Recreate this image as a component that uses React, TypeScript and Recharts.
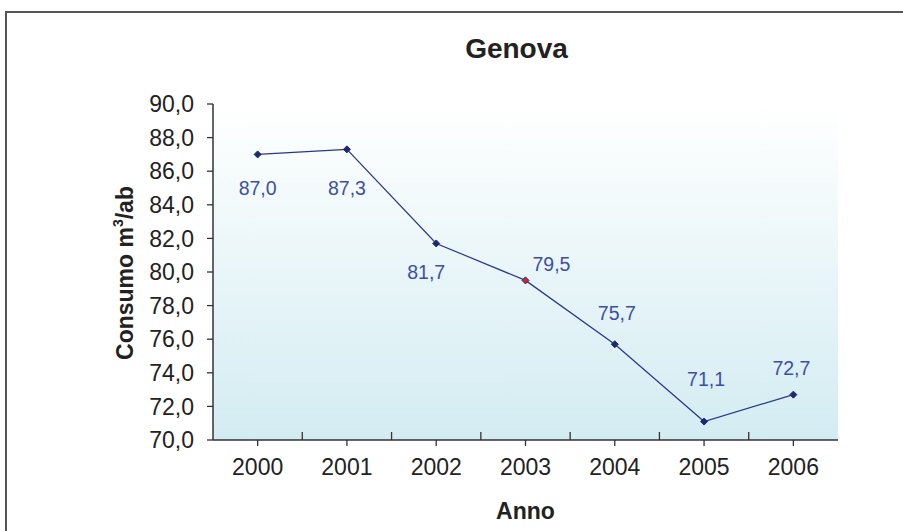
import React from 'react';
import { LineChart, Line, XAxis, YAxis, CartesianGrid, LabelList } from 'recharts';

const years = ['2000', '2001', '2002', '2003', '2004', '2005', '2006'];
const consumo = [87.0, 87.3, 81.7, 79.5, 75.7, 71.1, 72.7];
const yTicks = [70, 72, 74, 76, 78, 80, 82, 84, 86, 88, 90];

// where each value label sits relative to its point
const labelDx = [0, 0, -10, 26, 2, 2, -2];
const labelDy = [34, 39, 29, -16, -31, -43, -27];
const dotFill = ['#1f2a6e', '#1f2a6e', '#1f2a6e', '#d0202a', '#1f2a6e', '#1f2a6e', '#1f2a6e'];

const chartData = years.map((y, i) => ({ year: y, value: consumo[i] }));

const fmt = (v: number) => v.toFixed(1).replace('.', ',');

const FONT = '"Liberation Sans", Arial, sans-serif';
const TICK_SIZE = 6;
const TICK_MARGIN = 13;

const XTick = (props: any) => {
  const { x, y, payload, index } = props;
  const axisY = y - TICK_SIZE - TICK_MARGIN;
  const half = payload.offset || 0;
  return (
    <g>
      {index < years.length - 1 && (
        <line x1={x + half} x2={x + half} y1={axisY} y2={axisY - 8} stroke="#333" strokeWidth={1.3} />
      )}
      <text x={x} y={y} dy="0.7em" textAnchor="middle" fill="#222" fontSize={23} fontFamily={FONT}>
        {payload.value}
      </text>
    </g>
  );
};

const Diamond = (props: any) => {
  const { cx, cy, index } = props;
  if (cx == null || cy == null) return null;
  const s = 3.5;
  return (
    <polygon
      points={`${cx},${cy - s} ${cx + s},${cy} ${cx},${cy + s} ${cx - s},${cy}`}
      fill={dotFill[index]}
      stroke="#1f2a6e"
      strokeWidth={1}
    />
  );
};

const ValueLabel = (props: any) => {
  const { x, y, value, index } = props;
  return (
    <text
      x={x + labelDx[index]}
      y={y + labelDy[index]}
      textAnchor="middle"
      dominantBaseline="central"
      fill="#3c4fa3"
      fontSize={19.5}
      fontFamily={FONT}
    >
      {fmt(value)}
    </text>
  );
};

export default function App() {
  return (
    <div style={{ position: 'fixed', left: 0, top: 0, width: 903, height: 531, overflow: 'hidden', background: '#fff', fontFamily: FONT }}>
      <div style={{ position: 'absolute', left: 5, top: 11, width: 1100, height: 700, border: '2px solid #555', boxSizing: 'border-box' }} />
      <div style={{ position: 'absolute', left: 0, width: 1033, top: 33, textAlign: 'center', fontSize: 28, fontWeight: 'bold', color: '#222' }}>
        Genova
      </div>
      <svg style={{ position: 'absolute', left: 0, top: 0 }} width={903} height={531}>
        <text
          x={133}
          y={273}
          transform="rotate(-90, 133, 273)"
          textAnchor="middle"
          fontSize={23}
          fontWeight="bold"
          fill="#222"
          fontFamily={FONT}
        >
          Consumo m<tspan fontSize={14} dy={-10}>3</tspan><tspan dy={10}>/ab</tspan>
        </text>
      </svg>
      <div style={{ position: 'absolute', left: 0, top: 0 }}>
        <LineChart width={903} height={531} data={chartData} margin={{ top: 104, right: 65, bottom: 0, left: 0 }}>
          <defs>
            <linearGradient id="plotBg" x1="0" y1="0" x2="0" y2="1">
              <stop offset="0%" stopColor="#ffffff" />
              <stop offset="100%" stopColor="#d3ecf2" />
            </linearGradient>
          </defs>
          <CartesianGrid horizontal={false} vertical={false} fill="url(#plotBg)" />
          <XAxis
            dataKey="year"
            scale="band"
            height={91}
            tickSize={TICK_SIZE}
            tickMargin={TICK_MARGIN}
            tick={<XTick />}
            tickLine={{ stroke: '#333', strokeWidth: 1.3 }}
            axisLine={{ stroke: '#333', strokeWidth: 1.5 }}
            interval={0}
            label={{ value: 'Anno', position: 'insideBottom', offset: 12, fontSize: 23, fontWeight: 'bold', fill: '#222', fontFamily: FONT }}
          />
          <XAxis xAxisId="top" dataKey="year" scale="band" orientation="top" height={0} tick={false} tickLine={false} axisLine={{ stroke: '#bbb', strokeWidth: 1.5 }} />
          <YAxis
            width={213}
            domain={[70, 90]}
            ticks={yTicks}
            interval={0}
            tickFormatter={fmt}
            tickSize={TICK_SIZE}
            tickMargin={TICK_MARGIN}
            tick={{ fontSize: 23, fill: '#222', fontFamily: FONT }}
            tickLine={{ stroke: '#333', strokeWidth: 1.3 }}
            axisLine={{ stroke: '#333', strokeWidth: 1.5 }}
          />
          <YAxis yAxisId="right" orientation="right" width={0} domain={[70, 90]} tick={false} tickLine={false} axisLine={{ stroke: '#bbb', strokeWidth: 1.5 }} />
          <Line
            dataKey="value"
            stroke="#2a3589"
            strokeWidth={1.2}
            dot={<Diamond />}
            activeDot={false}
            isAnimationActive={false}
          >
            <LabelList dataKey="value" content={<ValueLabel />} />
          </Line>
        </LineChart>
      </div>
    </div>
  );
}
